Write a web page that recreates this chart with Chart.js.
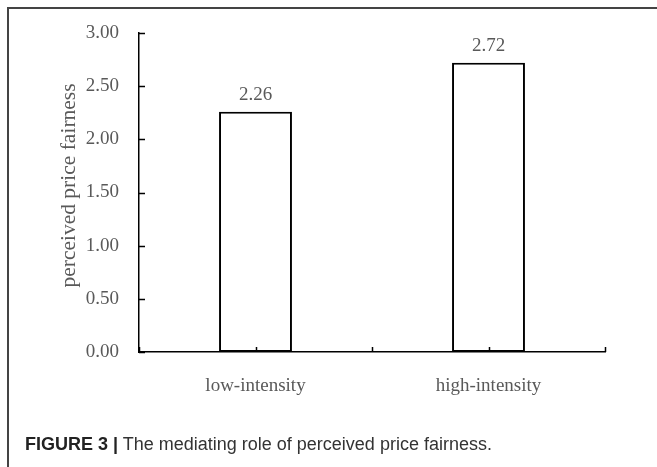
<!DOCTYPE html>
<html>
<head>
<meta charset="utf-8">
<script src="https://cdn.jsdelivr.net/npm/chart.js@4/dist/chart.umd.min.js"></script>
<style>
  html, body { margin: 0; padding: 0; background: #fff; }
  #wrap { position: relative; width: 657px; height: 467px; overflow: hidden; }
  #frame {
    position: absolute; left: 7px; top: 7px; width: 700px; height: 500px;
    border-top: 2px solid #444; border-left: 2px solid #444;
  }
  #chartBox { position: absolute; left: 0; top: 0; width: 657px; height: 467px; }
  #caption {
    position: absolute; left: 25px; top: 434px;
    font-family: "Liberation Sans", Arial, sans-serif; font-size: 18px; color: #333;
    white-space: nowrap;
  }
  #caption b { color: #222; }
</style>
</head>
<body>
<div id="wrap">
  <div id="frame"></div>
  <div id="chartBox"><canvas id="bar-chartcanvas" width="657" height="467"></canvas></div>
  <div id="caption"><b>FIGURE 3 |</b> The mediating role of perceived price fairness.</div>
</div>
<script>
// categories and means
let categories = ["low-intensity", "high-intensity"]
let means = [2.26, 2.72]
let yTicks = [0, 0.5, 1, 1.5, 2, 2.5, 3]

const serif = "'Liberation Serif', 'Times New Roman', serif"
const grey = "#595959"

// short inward tick marks on both axes, value labels over the bars,
// and the y title (sits a little above the axis middle)
const axisMarks = {
    id: "axisMarks",
    afterDatasetsDraw(chart) {
        const ctx = chart.ctx
        const x = chart.scales.x
        const y = chart.scales.y
        ctx.save()
        ctx.strokeStyle = "#000"
        ctx.lineWidth = 1.5
        ctx.beginPath()
        for (let v of yTicks) {
            let py = Math.round(y.getPixelForValue(v)) + 0.5
            ctx.moveTo(x.left, py)
            ctx.lineTo(x.left + 6, py)
        }
        for (let i = -0.5; i <= categories.length - 0.5; i += 0.5) {
            let px = Math.round(x.getPixelForValue(i)) + 0.5
            ctx.moveTo(px, y.bottom)
            ctx.lineTo(px, y.bottom - 5)
        }
        ctx.stroke()

        ctx.fillStyle = grey
        ctx.font = "19px " + serif
        ctx.textAlign = "center"
        ctx.textBaseline = "middle"
        chart.getDatasetMeta(0).data.forEach((bar, i) => {
            ctx.fillText(means[i].toFixed(2), bar.x, bar.y - 17)
        })

        ctx.font = "21.5px " + serif
        ctx.translate(y.left + 13, (y.top + y.bottom) / 2 - 7)
        ctx.rotate(-Math.PI / 2)
        ctx.fillText("perceived price fairness", 0, 0)
        ctx.restore()
    }
}

let ctx = document.getElementById("bar-chartcanvas")

let chart = new Chart(ctx, {
    type: "bar",
    data: {
        labels: categories,
        datasets: [{
            data: means,
            backgroundColor: "#fff",
            borderColor: "#000",
            borderWidth: 2,
            borderSkipped: false,
            barPercentage: 0.313,
            categoryPercentage: 1
        }]
    },
    options: {
        responsive: false,
        animation: false,
        layout: {
            padding: { left: 56, right: 52, top: 33, bottom: 55 }
        },
        plugins: {
            legend: { display: false },
            tooltip: { enabled: false }
        },
        scales: {
            x: {
                grid: { display: false, drawTicks: false },
                border: { display: true, color: "#000", width: 1.5 },
                ticks: {
                    color: grey,
                    padding: 23,
                    font: { family: serif, size: 19 }
                },
                afterFit: (scale) => { scale.height = 60 }
            },
            y: {
                min: 0,
                max: 3,
                grid: { display: false, drawTicks: false },
                border: { display: true, color: "#000", width: 1.5 },
                ticks: {
                    stepSize: 0.5,
                    color: grey,
                    padding: 20,
                    font: { family: serif, size: 19 },
                    callback: (v) => Number(v).toFixed(2)
                },
                afterFit: (scale) => { scale.width = 83 }
            }
        }
    },
    plugins: [axisMarks]
})
</script>
</body>
</html>
